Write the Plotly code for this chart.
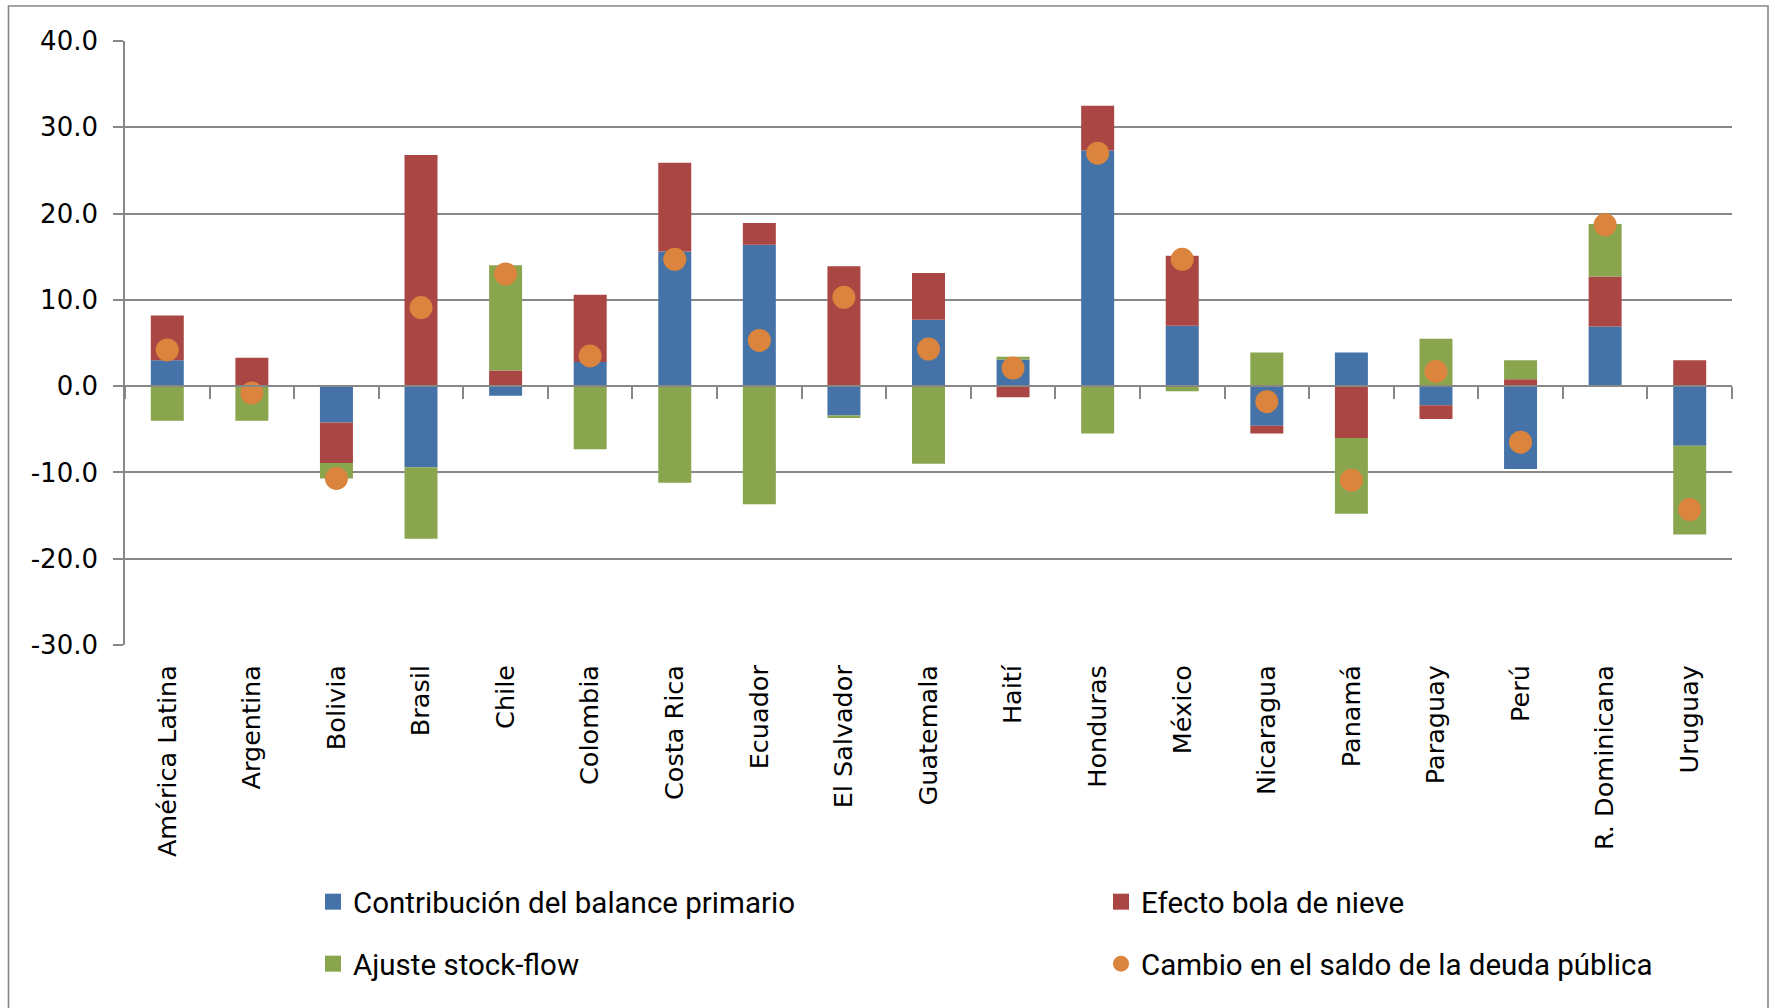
import plotly.graph_objects as go

# Países / regiones
categorias = ["América Latina", "Argentina", "Bolivia", "Brasil", "Chile", "Colombia",
              "Costa Rica", "Ecuador", "El Salvador", "Guatemala", "Haití", "Honduras",
              "México", "Nicaragua", "Panamá", "Paraguay", "Perú", "R. Dominicana", "Uruguay"]

# Contribución del balance primario
balance_primario = [3.0, 0.1, -4.2, -9.4, -1.1, 2.8, 15.6, 16.4, -3.4, 7.7, 3.1, 27.3,
                    7.0, -4.6, 3.9, -2.2, -9.6, 6.9, -6.9]
# Efecto bola de nieve
bola_de_nieve = [5.2, 3.2, -4.7, 26.8, 1.8, 7.8, 10.3, 2.5, 13.9, 5.4, -1.3, 5.2,
                 8.1, -0.9, -6.0, -1.6, 0.8, 5.8, 3.0]
# Ajuste stock-flow
stock_flow = [-4.0, -4.0, -1.8, -8.3, 12.2, -7.3, -11.2, -13.7, -0.3, -9.0, 0.3, -5.5,
              -0.6, 3.9, -8.8, 5.5, 2.2, 6.1, -10.3]
# Cambio en el saldo de la deuda pública
cambio_deuda = [4.2, -0.8, -10.7, 9.1, 13.0, 3.5, 14.7, 5.3, 10.3, 4.3, 2.1, 27.0,
                14.7, -1.8, -10.9, 1.7, -6.5, 18.7, -14.3]

y_ticks = [-30, -20, -10, 0, 10, 20, 30, 40]
y_tick_text = ["-30.0", "-20.0", "-10.0", "0.0", "10.0", "20.0", "30.0", "40.0"]

AZUL = "#4572A7"
ROJO = "#AA4643"
VERDE = "#89A54E"
NARANJA = "#DB843D"
GRIS = "#878787"

W, H = 1775, 1008
L, R, T, B = 125, 1732, 41, 645


def px_x(px):
    return (px - L) / (R - L)


def px_y(py):
    return (B - py) / (B - T)


x_range = [-0.5, len(categorias) - 0.5]

series = [
    ("Contribución del balance primario", balance_primario, AZUL, "legend"),
    ("Efecto bola de nieve", bola_de_nieve, ROJO, "legend2"),
    ("Ajuste stock-flow", stock_flow, VERDE, "legend3"),
]

fig = go.Figure()

# Barras apiladas (positivas hacia arriba, negativas hacia abajo)
for nombre, valores, color, leg in series:
    fig.add_trace(go.Bar(x=categorias, y=valores, name=nombre, showlegend=False,
                         marker=dict(color=color, line=dict(width=0))))

fig.add_trace(go.Scatter(x=categorias, y=cambio_deuda, name="Cambio en el saldo de la deuda pública",
                         mode="markers", xaxis="x2", yaxis="y",
                         marker=dict(color=NARANJA, size=23, line=dict(width=0)),
                         legend="legend4"))

# Entradas de leyenda con cuadrados grandes para las barras
for nombre, valores, color, leg in series:
    fig.add_trace(go.Scatter(x=[None], y=[None], name=nombre, mode="markers",
                             marker=dict(color=color, symbol="square", size=20, line=dict(width=0)),
                             legend=leg, showlegend=True))

legend_font = dict(family="Roboto, Liberation Sans, sans-serif", size=29.5, color="black")


def leyenda(x_px, y_px):
    return dict(x=px_x(x_px), y=px_y(y_px), xanchor="left", yanchor="middle",
                font=legend_font, bgcolor="rgba(0,0,0,0)", itemsizing="trace")


fig.update_layout(
    width=W, height=H,
    margin=dict(l=L, r=W - R, t=T, b=H - B),
    paper_bgcolor="white", plot_bgcolor="white",
    showlegend=True,
    barmode="relative", bargap=0.61,
    font=dict(family="DejaVu Sans, Verdana, sans-serif", size=25.5, color="black"),
    xaxis=dict(categoryorder="array", categoryarray=categorias, range=x_range,
               tickangle=-90, showgrid=False, showline=False, ticks="",
               ticklabelstandoff=14, tickfont=dict(size=25.5)),
    xaxis2=dict(overlaying="x", anchor="free", range=x_range,
                position=(0 - y_ticks[0]) / (y_ticks[-1] - y_ticks[0]),
                categoryorder="array", categoryarray=categorias,
                showline=True, linecolor=GRIS, linewidth=1.6,
                ticks="outside", tickson="boundaries", ticklen=12, tickcolor=GRIS, tickwidth=1.6,
                showticklabels=False, showgrid=False),
    yaxis=dict(range=[y_ticks[0], y_ticks[-1]], tickvals=y_ticks, ticktext=y_tick_text,
               showgrid=True, gridcolor=GRIS, gridwidth=1.6, zeroline=False,
               showline=True, linecolor=GRIS, linewidth=1.6,
               ticks="outside", ticklen=10, tickcolor=GRIS, tickwidth=1.6,
               ticklabelstandoff=10, tickfont=dict(size=26)),
    legend=leyenda(313, 902),
    legend2=leyenda(1101, 902),
    legend3=leyenda(313, 964),
    legend4=leyenda(1101, 964),
    shapes=[dict(type="rect", xref="paper", yref="paper", layer="below",
                 x0=px_x(8.5), x1=px_x(1768), y0=px_y(1015), y1=px_y(6),
                 line=dict(color=GRIS, width=1.6), fillcolor="rgba(0,0,0,0)")],
)

fig.write_html("out.html")
